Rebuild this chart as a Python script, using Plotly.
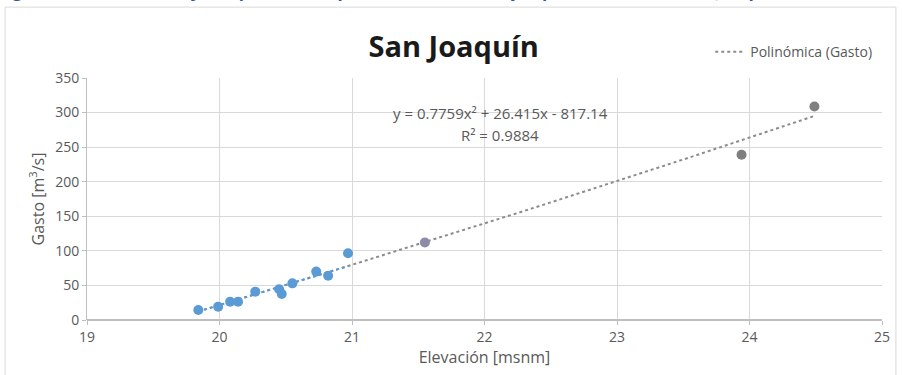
import numpy as np
import plotly.graph_objects as go

# ---- data ----
elev_blue = [19.84, 19.99, 20.08, 20.14, 20.27, 20.45, 20.47, 20.55, 20.73, 20.82, 20.97]
gasto_blue = [14.5, 19.3, 26.5, 26.5, 41, 44.5, 37.7, 53, 70, 64, 96.6]
elev_gray = [21.55, 23.94, 24.49]
gasto_gray = [112, 239, 308.7]
gray_colors = ["#8d8ca8", "#7f7f7f", "#7f7f7f"]
poly_coef = [0.7759, 26.415, -817.14]   # a, b, c from the displayed equation
x_ticks = [19, 20, 21, 22, 23, 24, 25]
y_ticks = [0, 50, 100, 150, 200, 250, 300, 350]

fit_all = np.linspace(min(elev_blue), max(elev_gray), 120)
fit_blue = np.linspace(min(elev_blue), max(elev_blue), 40)
poly = np.poly1d(poly_coef)

fig = go.Figure()
fig.add_trace(go.Scatter(x=fit_all, y=poly(fit_all), mode="lines",
                         line=dict(color="#8c8c8c", width=2, dash="dot"),
                         name="Polinómica (Gasto)", showlegend=True))
fig.add_trace(go.Scatter(x=fit_blue, y=poly(fit_blue), mode="lines",
                         line=dict(color="#5b9bd5", width=2, dash="dot"),
                         showlegend=False, hoverinfo="skip"))
fig.add_trace(go.Scatter(x=elev_blue, y=gasto_blue, mode="markers",
                         marker=dict(color="#5b9bd5", size=10, line=dict(width=0)),
                         showlegend=False))
fig.add_trace(go.Scatter(x=elev_gray, y=gasto_gray, mode="markers",
                         marker=dict(color=gray_colors, size=10, line=dict(width=0)),
                         showlegend=False))

fig.update_layout(
    width=902, height=375,
    margin=dict(l=87, r=17, t=78, b=55),
    paper_bgcolor="white", plot_bgcolor="white",
    font=dict(family="Open Sans, Liberation Sans, sans-serif", color="#595959", size=12),
    title=dict(text="<b>San Joaquín</b>", x=0.503, xanchor="center", y=0.875, yanchor="middle",
               font=dict(size=29, color="#1a1a1a", family="Open Sans, sans-serif")),
    legend=dict(x=0.994, xanchor="right", y=1.107, yanchor="middle", bgcolor="rgba(0,0,0,0)",
                font=dict(size=14, color="#595959")),
    showlegend=True,
    xaxis=dict(range=[19, 25], tickvals=x_ticks, ticktext=[str(v) for v in x_ticks],
               showgrid=True, gridcolor="#d9d9d9", gridwidth=1,
               showline=False, zeroline=False, ticks="outside", ticklen=4, tickcolor="#bfbfbf",
               tickfont=dict(size=14, color="#595959"),
               title=dict(text="Elevación [msnm]", font=dict(size=16, color="#595959"), standoff=4)),
    yaxis=dict(range=[0, 350], tickvals=y_ticks, ticktext=[str(v) for v in y_ticks],
               showgrid=True, gridcolor="#d9d9d9", gridwidth=1,
               showline=True, linecolor="#bfbfbf", zeroline=True, zerolinecolor="#bfbfbf",
               ticks="outside", ticklen=4, tickcolor="#bfbfbf",
               tickfont=dict(size=14, color="#595959"),
               title=dict(text="Gasto [m<sup>3</sup>/s]", font=dict(size=16, color="#595959"), standoff=6)),
    annotations=[
        dict(text="y = 0.7759x² + 26.415x - 817.14", xref="paper", yref="paper",
             x=0.52, y=0.855, xanchor="center", yanchor="middle", showarrow=False,
             font=dict(size=15, color="#595959")),
        dict(text="R² = 0.9884", xref="paper", yref="paper",
             x=0.52, y=0.765, xanchor="center", yanchor="middle", showarrow=False,
             font=dict(size=15, color="#595959")),
        dict(text="<b>Figura 4.12 Curvas de ajuste polinómica para la relación H-Q y H para la estación San Joaquín</b>",
             xref="paper", yref="paper", x=0.875, y=1.306, xanchor="right", yanchor="bottom",
             showarrow=False, font=dict(size=17, color="#2f5597", family="Open Sans, sans-serif")),
    ],
    shapes=[
        dict(type="rect", xref="paper", yref="paper", x0=-0.103, x1=1.0175, y0=-0.23, y1=1.293,
             line=dict(color="#d9d9d9", width=1), fillcolor="rgba(0,0,0,0)", layer="below"),
    ],
)

fig.write_html("out.html", config={"displayModeBar": False},
               post_script="document.body.style.margin='0';document.body.style.padding='0';")
